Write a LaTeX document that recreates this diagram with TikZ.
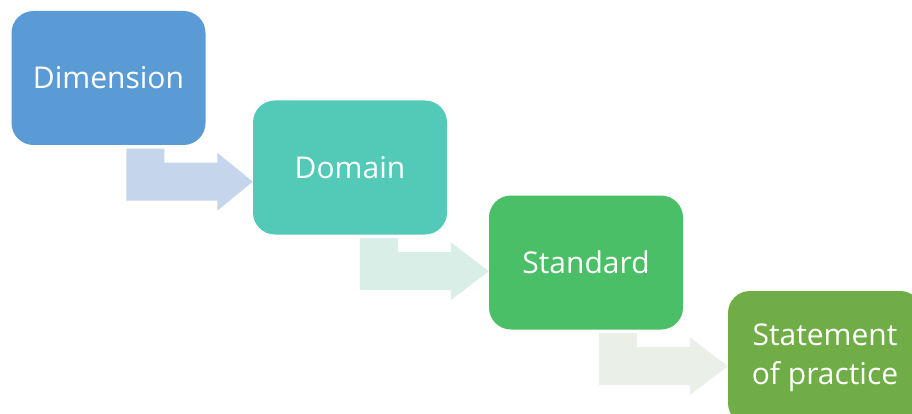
\documentclass[tikz,border=0pt]{standalone}
\usepackage{fontspec}
\setmainfont{Open Sans}
\usetikzlibrary{calc}

\definecolor{boxA}{HTML}{5B9BD5}
\definecolor{boxB}{HTML}{52CAB7}
\definecolor{boxC}{HTML}{4ABF67}
\definecolor{boxD}{HTML}{70AD47}
\definecolor{arrA}{HTML}{C5D5EB}
\definecolor{arrB}{HTML}{D9EEE7}
\definecolor{arrC}{HTML}{EAEFE8}

\tikzset{
  stepbox/.style={rounded corners=22pt, minimum width=194pt, minimum height=134pt,
    inner sep=0pt, text=white, align=center,
    font=\fontsize{30}{39}\selectfont},
}

% bent block arrow: down out of the bottom of #1, then right into the west side of #2
% #3 = offset of the stem from the left side of #1, #4 = fill colour
\newcommand\bentarrow[4]{%
  \path let \p1=(#1.south west), \p2=(#2.west) in
    coordinate (s) at (\x1+#3pt, \y1-3.5pt)
    coordinate (t) at (\x2, \y1-36.5pt);
  \fill[#4] let \p1=(s), \p2=(t) in
    (\x1,\y1) -- (\x1+38pt,\y1) -- (\x1+38pt,\y2+19pt) -- (\x1+91pt,\y2+19pt)
    -- (\x1+91pt,\y2+29pt) -- (t) -- (\x1+91pt,\y2-29pt) -- (\x1+91pt,\y2-19pt)
    -- (\x1,\y2-19pt) -- cycle;
}

\begin{document}
\begin{tikzpicture}[x=1pt, y=-1pt]
  \useasboundingbox (0,0) rectangle (912,414);
  \clip (0,0) rectangle (912,414);

  \node[stepbox, fill=boxA] (dim) at (108.5,78)  {Dimension};
  \node[stepbox, fill=boxB] (dom) at (350,167.5) {Domain};
  \node[stepbox, fill=boxC] (std) at (586,262.5) {Standard};
  \node[stepbox, fill=boxD] (sop) at (825,358)   {Statement\\of practice};

  \bentarrow{dim}{dom}{115}{arrA}
  \bentarrow{dom}{std}{107}{arrB}
  \bentarrow{std}{sop}{110}{arrC}
\end{tikzpicture}
\end{document}
